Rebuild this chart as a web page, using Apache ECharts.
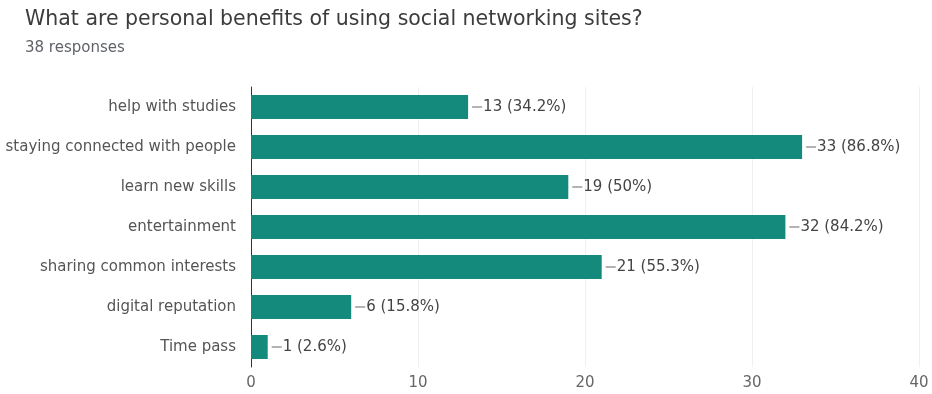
<!DOCTYPE html>
<html>
<head>
<meta charset="utf-8">
<script src="https://cdn.jsdelivr.net/npm/echarts@6/dist/echarts.min.js"></script>
<style>
  html, body { margin: 0; padding: 0; background: #fff; }
  #chart { width: 932px; height: 394px; }
</style>
</head>
<body>
<div id="chart"></div>
<script>
// Survey answers: how many of the 38 respondents picked each benefit
const categories = [
  'help with studies',
  'staying connected with people',
  'learn new skills',
  'entertainment',
  'sharing common interests',
  'digital reputation',
  'Time pass'
];
const counts = [13, 33, 19, 32, 21, 6, 1];
const percents = ['34.2%', '86.8%', '50%', '84.2%', '55.3%', '15.8%', '2.6%'];
const xTicks = [0, 10, 20, 30, 40];

const chart = echarts.init(document.getElementById('chart'), null, { renderer: 'canvas' });

const FONT = '"DejaVu Sans", Verdana, sans-serif';

chart.setOption({
  animation: false,
  backgroundColor: '#ffffff',
  title: {
    text: 'What are personal benefits of using social networking sites?',
    subtext: '38 responses',
    left: 20,
    top: 4,
    itemGap: 11,
    textStyle: { fontFamily: FONT, fontSize: 20.5, fontWeight: 'normal', color: '#3c3c3c' },
    subtextStyle: { fontFamily: FONT, fontSize: 15, color: '#5f6368' }
  },
  grid: { left: 251, right: 13, top: 87, bottom: 27, containLabel: false },
  xAxis: {
    type: 'value',
    min: xTicks[0],
    max: xTicks[xTicks.length - 1],
    interval: xTicks[1] - xTicks[0],
    axisLine: { show: false },
    axisTick: { show: false },
    axisLabel: { fontFamily: FONT, fontSize: 15, color: '#666666', margin: 9 },
    splitLine: { show: true, lineStyle: { color: '#f0f0f0', width: 1 } }
  },
  yAxis: {
    type: 'category',
    data: categories,
    inverse: true,
    axisLine: { show: true, onZero: false, lineStyle: { color: '#333333', width: 1 } },
    axisTick: { show: false },
    axisLabel: { fontFamily: FONT, fontSize: 15, color: '#555555', margin: 15 }
  },
  series: [{
    type: 'bar',
    data: counts,
    barCategoryGap: '40%',
    itemStyle: { color: '#138a7b' },
    label: {
      show: true,
      position: 'right',
      distance: 4,
      formatter: (p) => '{l|}{t|' + p.value + ' (' + percents[p.dataIndex] + ')}',
      rich: {
        l: { width: 10, height: 1, backgroundColor: '#666666', verticalAlign: 'middle' },
        t: { fontFamily: FONT, fontSize: 15, color: '#444444', verticalAlign: 'middle', padding: [0, 0, 0, 1] }
      }
    }
  }]
});
</script>
</body>
</html>
